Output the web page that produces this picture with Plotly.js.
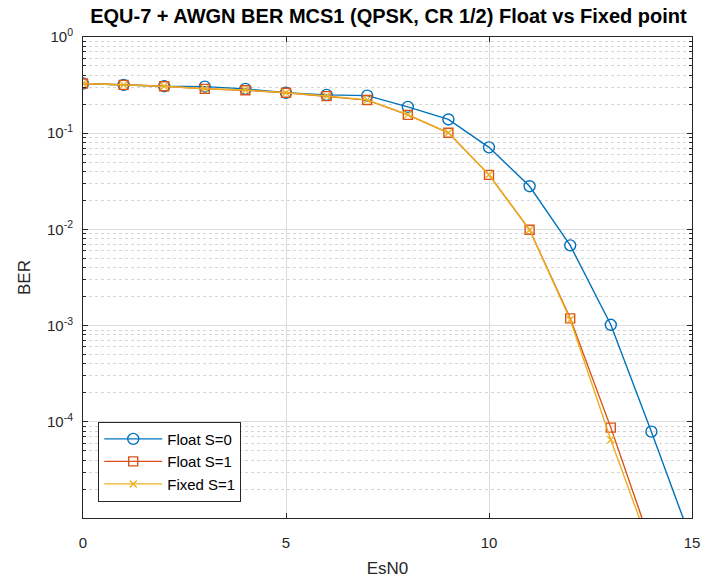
<!DOCTYPE html>
<html>
<head>
<meta charset="utf-8">
<script src="https://cdn.plot.ly/plotly-3.0.1.min.js"></script>
<style>html,body{margin:0;padding:0;background:#fff;}#chart{width:705px;height:578px;}</style>
</head>
<body>
<div id="chart"></div>
<script>
// EsN0 values (dB)
var esn0Blue = [0, 1, 2, 3, 4, 5, 6, 7, 8, 9, 10, 11, 12, 13, 14, 15];
var esn0Red = [0, 1, 2, 3, 4, 5, 6, 7, 8, 9, 10, 11, 12, 13, 14];
var esn0Yellow = [0, 1, 2, 3, 4, 5, 6, 7, 8, 9, 10, 11, 12, 13, 14];

// BER values
var berFloatS0 = [0.328, 0.318, 0.308, 0.305, 0.289, 0.263, 0.250, 0.246, 0.188, 0.139, 0.0713, 0.0281, 0.00683, 0.00102, 7.9e-5, 5.6e-6];
var berFloatS1 = [0.328, 0.318, 0.308, 0.289, 0.280, 0.263, 0.243, 0.221, 0.155, 0.101, 0.0369, 0.0099, 0.00119, 8.7e-5, 5.2e-6];
var berFixedS1 = [0.328, 0.318, 0.308, 0.290, 0.281, 0.263, 0.244, 0.222, 0.156, 0.101, 0.0370, 0.0099, 0.00115, 6.5e-5, 4.5e-6];

var seriesNames = ['Float S=0', 'Float S=1', 'Fixed S=1'];
var yTickVals = [1, 0.1, 0.01, 0.001, 0.0001];
var yTickText = ['10<sup>0</sup>', '10<sup>-1</sup>', '10<sup>-2</sup>', '10<sup>-3</sup>', '10<sup>-4</sup>'];
var xTickVals = [0, 5, 10, 15];

var minorVals = [];
for (var e = -5; e < 0; e++) {
  for (var m = 2; m <= 9; m++) minorVals.push(m * Math.pow(10, e));
}

var cBlue = '#0072BD', cRed = '#D95319', cYel = '#EDB120';

var traces = [
  {x: esn0Blue, y: berFloatS0, name: seriesNames[0], mode: 'lines+markers',
   line: {color: cBlue, width: 1.4},
   marker: {symbol: 'circle-open', size: 11, color: cBlue, line: {width: 1.4, color: cBlue}}},
  {x: esn0Red, y: berFloatS1, name: seriesNames[1], mode: 'lines+markers',
   line: {color: cRed, width: 1.4},
   marker: {symbol: 'square-open', size: 9, color: cRed, line: {width: 1.4, color: cRed}}},
  {x: esn0Yellow, y: berFixedS1, name: seriesNames[2], mode: 'lines+markers',
   line: {color: cYel, width: 1.4},
   marker: {symbol: 'x-thin-open', size: 7, color: cYel, line: {width: 1.4, color: cYel}}}
];

var fam = 'Liberation Sans, Arial, sans-serif';
var axisFont = {family: fam, size: 15, color: '#262626'};

var layout = {
  width: 705, height: 578,
  margin: {l: 83, r: 13, t: 37, b: 60, pad: 0},
  paper_bgcolor: '#ffffff', plot_bgcolor: '#ffffff',
  showlegend: true,
  title: {text: '<b>EQU-7 + AWGN BER MCS1 (QPSK, CR 1/2) Float vs Fixed point</b>',
          font: {family: fam, size: 20, color: '#000000'},
          x: 0.551, xanchor: 'center', y: 0.972, yanchor: 'middle'},
  xaxis: {
    range: [0, 15], tickmode: 'array', tickvals: xTickVals, ticktext: ['0', '5', '10', '15'],
    ticks: 'inside', ticklen: 5, tickwidth: 1, tickcolor: '#262626',
    showline: true, linecolor: '#262626', linewidth: 1, mirror: 'ticks',
    showgrid: true, gridcolor: '#dcdcdc', gridwidth: 1, zeroline: false,
    tickfont: axisFont, ticklabelstandoff: 11,
    title: {text: 'EsN0', font: {family: fam, size: 17, color: '#262626'}, standoff: 12}
  },
  yaxis: {
    type: 'log', range: [-5, 0], tickmode: 'array', tickvals: yTickVals, ticktext: yTickText,
    ticks: 'inside', ticklen: 5, tickwidth: 1, tickcolor: '#262626',
    showline: true, linecolor: '#262626', linewidth: 1, mirror: 'ticks',
    showgrid: true, gridcolor: '#dcdcdc', gridwidth: 1, zeroline: false,
    tickfont: axisFont, ticklabelstandoff: 6,
    minor: {tickmode: 'array', tickvals: minorVals, ticks: 'inside', ticklen: 3, tickcolor: '#262626',
            showgrid: true, gridcolor: '#d6d6d6', gridwidth: 1, griddash: 'dot'},
    title: {text: 'BER', font: {family: fam, size: 17, color: '#262626'}, standoff: 12}
  },
  legend: {x: 0.025, y: 0.034, xanchor: 'left', yanchor: 'bottom',
           bgcolor: '#ffffff', bordercolor: '#262626', borderwidth: 1,
           font: {family: fam, size: 15, color: '#000000'},
           itemwidth: 58, tracegroupgap: 0}
};

Plotly.newPlot('chart', traces, layout, {displayModeBar: false, staticPlot: true});
</script>
</body>
</html>
